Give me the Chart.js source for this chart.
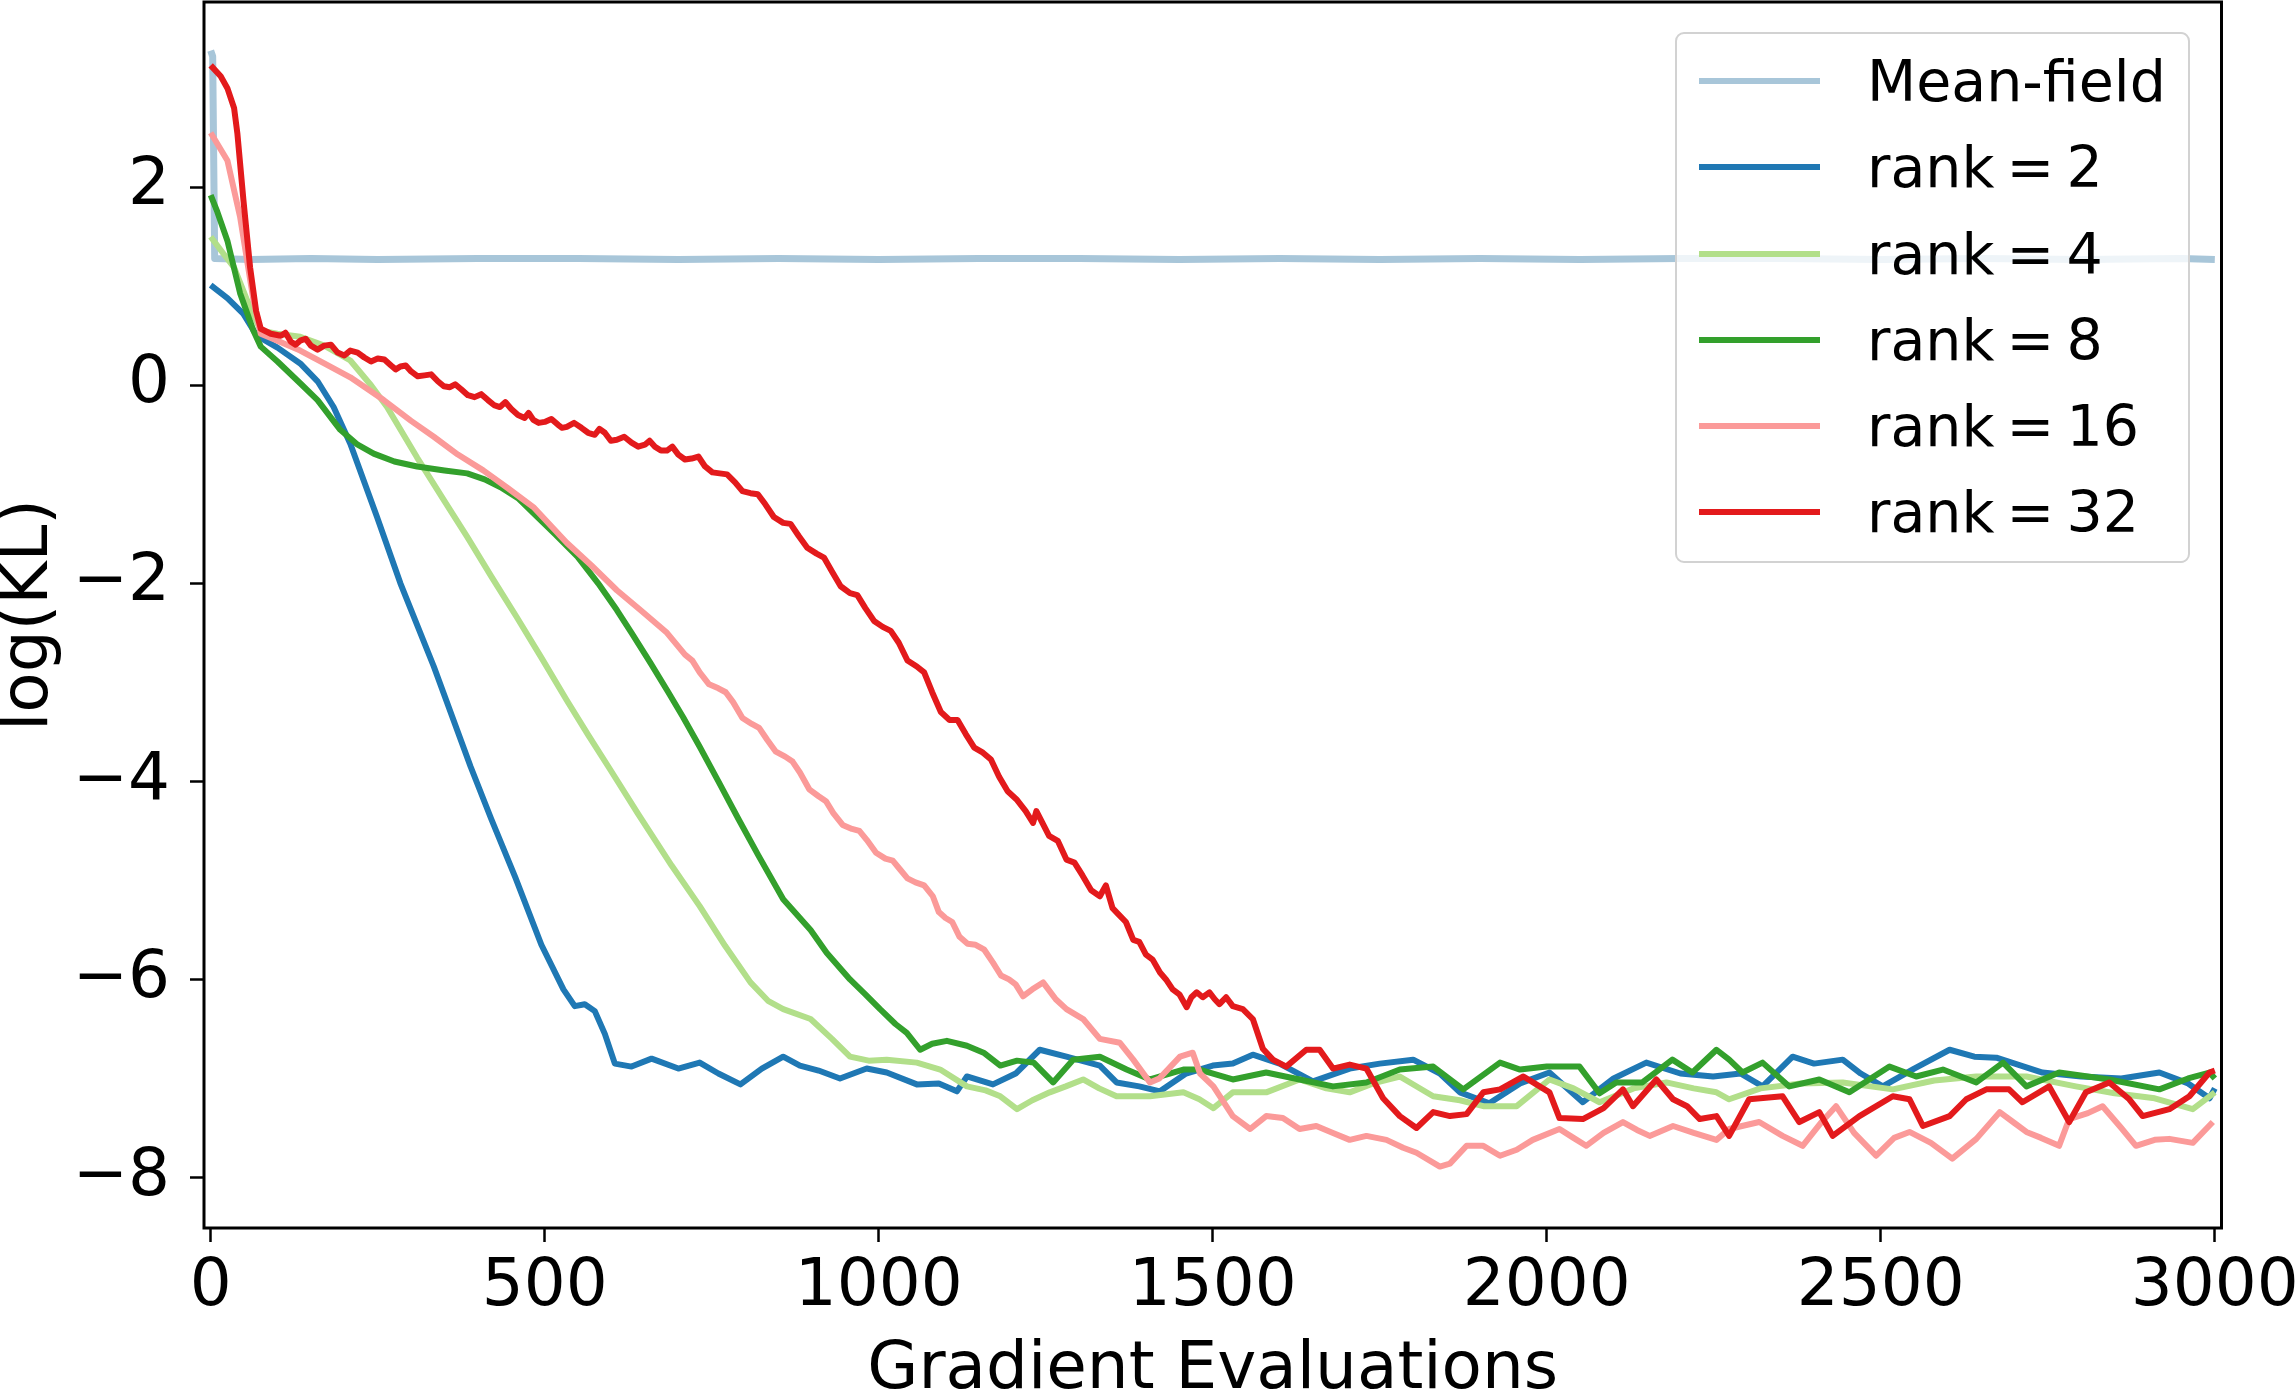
<!DOCTYPE html>
<html>
<head>
<meta charset="utf-8">
<script src="https://cdn.jsdelivr.net/npm/chart.js@4.4.1/dist/chart.umd.min.js"></script>
<style>
html,body{margin:0;padding:0;background:#fff;overflow:hidden;}
#wrap{position:relative;width:2295px;height:1389px;}
#c{position:absolute;left:0;top:0;}
#legend{position:absolute;left:1675px;top:32px;width:511px;height:527px;border:2.5px solid #d2d2d2;border-radius:9px;background:rgba(255,255,255,0.8);box-sizing:content-box;font-family:'DejaVu Sans';font-size:57px;color:#000;}
.row{position:absolute;left:0;height:80px;width:100%;}
.hand{position:absolute;left:22px;width:121px;height:6px;top:37px;}
.lab{position:absolute;left:190px;top:0;line-height:80px;white-space:nowrap;word-spacing:-6px;}
</style>
</head>
<body>
<div id="wrap">
<canvas id="c" width="2295" height="1389"></canvas>
<div id="legend"></div>
</div>
<script>
const seriesLabels = ['Mean-field', 'rank = 2', 'rank = 4', 'rank = 8', 'rank = 16', 'rank = 32'];
const seriesColors = ['#a8c6d9', '#1f78b4', '#b2df8a', '#33a02c', '#fb9a99', '#e31a1c'];
const seriesWidths = [7, 6, 6, 6, 6, 6];
const xTickValues = [0, 500, 1000, 1500, 2000, 2500, 3000];
const yTickValues = [-8, -6, -4, -2, 0, 2];
const xAxisTitle = 'Gradient Evaluations';
const yAxisTitle = 'log(KL)';

const meanFieldX = [0, 3, 6, 60, 150, 250, 400, 550, 700, 850, 1000, 1150, 1300, 1450, 1600, 1750, 1900, 2050, 2200, 2350, 2500, 2650, 2800, 2950, 3000];
const meanFieldY = [3.38, 3.32, 1.28, 1.27, 1.28, 1.27, 1.28, 1.28, 1.27, 1.28, 1.27, 1.28, 1.28, 1.27, 1.28, 1.27, 1.28, 1.27, 1.28, 1.28, 1.27, 1.28, 1.27, 1.28, 1.27];

const rank2X = [0, 25, 49, 69, 100, 134, 160, 184, 209, 249, 284, 334, 389, 420, 456, 495, 528, 545, 560, 575, 590, 605, 630, 660, 700, 732, 760, 793, 825, 857, 882, 910, 942, 982, 1012, 1057, 1090, 1117, 1132, 1171, 1205, 1241, 1281, 1331, 1356, 1390, 1421, 1460, 1500, 1530, 1560, 1600, 1650, 1705, 1750, 1800, 1840, 1870, 1914, 1960, 2004, 2054, 2100, 2149, 2200, 2249, 2290, 2323, 2368, 2400, 2443, 2470, 2503, 2550, 2603, 2640, 2673, 2742, 2800, 2860, 2917, 2960, 2992, 3000];
const rank2Y = [1.01, 0.88, 0.72, 0.5, 0.38, 0.22, 0.04, -0.22, -0.59, -1.33, -2.0, -2.84, -3.85, -4.38, -4.97, -5.65, -6.1, -6.27, -6.25, -6.32, -6.55, -6.85, -6.88, -6.8, -6.9, -6.84, -6.95, -7.06, -6.9, -6.78, -6.87, -6.92, -7.0, -6.9, -6.94, -7.06, -7.05, -7.13, -6.98, -7.06, -6.95, -6.71, -6.78, -6.87, -7.04, -7.08, -7.13, -6.95, -6.87, -6.85, -6.76, -6.85, -7.03, -6.9, -6.85, -6.81, -6.95, -7.14, -7.25, -7.05, -6.94, -7.24, -7.0, -6.84, -6.95, -6.98, -6.95, -7.08, -6.78, -6.85, -6.81, -6.95, -7.08, -6.9, -6.71, -6.78, -6.79, -6.94, -6.98, -7.0, -6.94, -7.05, -7.2, -7.1];

const rank4X = [0, 20, 35, 55, 75, 100, 134, 170, 209, 240, 264, 309, 350, 384, 420, 458, 495, 533, 565, 598, 640, 690, 732, 770, 808, 835, 857, 898, 930, 957, 985, 1012, 1057, 1092, 1132, 1160, 1182, 1207, 1230, 1256, 1280, 1306, 1330, 1356, 1406, 1456, 1480, 1501, 1530, 1580, 1630, 1670, 1705, 1740, 1780, 1830, 1870, 1905, 1955, 2004, 2040, 2079, 2130, 2179, 2220, 2254, 2273, 2320, 2380, 2443, 2518, 2580, 2643, 2718, 2792, 2850, 2910, 2967, 3000];
const rank4Y = [1.5, 1.32, 1.19, 0.85, 0.55, 0.52, 0.49, 0.4, 0.25, 0.0, -0.22, -0.73, -1.17, -1.53, -1.93, -2.34, -2.75, -3.18, -3.53, -3.88, -4.33, -4.85, -5.26, -5.66, -6.03, -6.22, -6.3, -6.4, -6.6, -6.78, -6.82, -6.81, -6.84, -6.91, -7.08, -7.12, -7.18, -7.31, -7.22, -7.14, -7.08, -7.01, -7.1, -7.18, -7.18, -7.14, -7.21, -7.3, -7.14, -7.14, -7.01, -7.1, -7.14, -7.05, -6.98, -7.18, -7.22, -7.28, -7.28, -7.01, -7.1, -7.24, -7.1, -7.04, -7.1, -7.14, -7.21, -7.1, -7.05, -7.04, -7.11, -7.02, -6.98, -6.98, -7.08, -7.15, -7.2, -7.31, -7.14];

const rank8X = [0, 10, 25, 44, 64, 75, 100, 134, 160, 194, 220, 244, 275, 309, 350, 384, 410, 434, 460, 483, 515, 549, 580, 608, 630, 658, 685, 707, 732, 760, 790, 820, 857, 898, 922, 957, 980, 1002, 1025, 1042, 1062, 1080, 1102, 1132, 1157, 1182, 1207, 1232, 1261, 1291, 1331, 1371, 1406, 1456, 1480, 1530, 1580, 1630, 1680, 1730, 1780, 1830, 1875, 1930, 1960, 2000, 2049, 2079, 2104, 2143, 2188, 2218, 2254, 2273, 2293, 2323, 2363, 2408, 2453, 2513, 2553, 2593, 2643, 2683, 2718, 2767, 2842, 2917, 2960, 2992, 3000];
const rank8Y = [1.92, 1.75, 1.46, 0.93, 0.55, 0.39, 0.24, 0.02, -0.15, -0.45, -0.6, -0.69, -0.77, -0.82, -0.86, -0.89, -0.95, -1.03, -1.14, -1.29, -1.5, -1.73, -2.0, -2.27, -2.5, -2.8, -3.1, -3.35, -3.65, -4.0, -4.38, -4.75, -5.19, -5.5, -5.73, -6.0, -6.15, -6.3, -6.45, -6.54, -6.71, -6.65, -6.62, -6.67, -6.74, -6.87, -6.82, -6.84, -7.04, -6.81, -6.78, -6.91, -7.01, -6.91, -6.91, -7.01, -6.94, -7.01, -7.08, -7.04, -6.91, -6.88, -7.11, -6.84, -6.91, -6.88, -6.88, -7.15, -7.04, -7.04, -6.81, -6.94, -6.71, -6.81, -6.94, -6.84, -7.08, -7.01, -7.14, -6.88, -6.98, -6.91, -7.04, -6.84, -7.08, -6.94, -7.01, -7.11, -7.0, -6.94, -7.0];

const rank16X = [0, 25, 44, 64, 75, 100, 134, 170, 209, 259, 300, 334, 370, 408, 445, 483, 533, 570, 608, 645, 683, 710, 721, 732, 746, 760, 771, 782, 796, 810, 821, 833, 846, 860, 871, 882, 896, 910, 921, 932, 946, 960, 971, 982, 996, 1010, 1021, 1032, 1043, 1055, 1068, 1081, 1090, 1100, 1110, 1121, 1133, 1145, 1158, 1171, 1183, 1195, 1205, 1216, 1230, 1246, 1265, 1281, 1306, 1331, 1361, 1381, 1406, 1420, 1451, 1470, 1481, 1501, 1530, 1556, 1580, 1605, 1630, 1655, 1680, 1705, 1730, 1760, 1785, 1805, 1840, 1855, 1880, 1905, 1930, 1955, 1979, 2019, 2040, 2059, 2085, 2114, 2135, 2154, 2189, 2220, 2254, 2273, 2318, 2353, 2383, 2410, 2433, 2460, 2493, 2520, 2543, 2575, 2607, 2643, 2678, 2700, 2718, 2740, 2767, 2782, 2810, 2832, 2860, 2882, 2910, 2932, 2967, 2997];
const rank16Y = [2.55, 2.27, 1.7, 0.86, 0.52, 0.45, 0.35, 0.22, 0.08, -0.15, -0.36, -0.52, -0.7, -0.86, -1.04, -1.23, -1.59, -1.82, -2.07, -2.28, -2.5, -2.72, -2.78, -2.9, -3.02, -3.06, -3.1, -3.2, -3.36, -3.42, -3.46, -3.58, -3.7, -3.75, -3.8, -3.91, -4.08, -4.15, -4.2, -4.32, -4.44, -4.48, -4.5, -4.59, -4.72, -4.78, -4.8, -4.89, -4.98, -5.02, -5.05, -5.16, -5.32, -5.38, -5.42, -5.57, -5.64, -5.65, -5.7, -5.83, -5.96, -6.0, -6.05, -6.17, -6.1, -6.03, -6.2, -6.3, -6.4, -6.6, -6.64, -6.81, -7.04, -7.0, -6.78, -6.74, -6.95, -7.08, -7.38, -7.51, -7.38, -7.4, -7.51, -7.48, -7.55, -7.62, -7.58, -7.62, -7.7, -7.75, -7.89, -7.86, -7.68, -7.68, -7.78, -7.72, -7.62, -7.51, -7.6, -7.68, -7.55, -7.44, -7.52, -7.58, -7.48, -7.55, -7.62, -7.51, -7.44, -7.58, -7.68, -7.45, -7.28, -7.55, -7.78, -7.6, -7.54, -7.65, -7.81, -7.61, -7.34, -7.45, -7.54, -7.6, -7.68, -7.41, -7.35, -7.28, -7.5, -7.68, -7.62, -7.61, -7.65, -7.44];

const rank32X = [0, 15, 25, 35, 40, 49, 59, 68, 75, 90, 105, 112, 120, 127, 134, 142, 150, 160, 170, 180, 190, 200, 209, 220, 230, 240, 250, 260, 270, 277, 284, 292, 300, 310, 320, 330, 340, 349, 358, 366, 375, 385, 395, 405, 415, 424, 433, 441, 450, 460, 470, 476, 483, 491, 500, 510, 520, 526, 533, 544, 555, 565, 575, 582, 590, 599, 608, 619, 630, 640, 650, 657, 665, 674, 683, 691, 700, 710, 720, 730, 740, 751, 762, 773, 785, 796, 808, 819, 830, 843, 857, 868, 880, 893, 907, 918, 930, 943, 957, 968, 980, 993, 1006, 1018, 1030, 1043, 1057, 1068, 1080, 1093, 1106, 1118, 1130, 1143, 1156, 1168, 1180, 1193, 1206, 1220, 1231, 1236, 1255, 1268, 1281, 1293, 1305, 1318, 1331, 1340, 1350, 1360, 1370, 1381, 1390, 1400, 1410, 1421, 1430, 1440, 1450, 1461, 1468, 1476, 1485, 1495, 1503, 1510, 1520, 1530, 1545, 1560, 1575, 1590, 1610, 1640, 1660, 1680, 1705, 1730, 1755, 1780, 1805, 1830, 1855, 1880, 1905, 1930, 1965, 2004, 2019, 2054, 2085, 2114, 2129, 2164, 2189, 2210, 2229, 2254, 2273, 2303, 2353, 2378, 2408, 2428, 2468, 2518, 2543, 2563, 2603, 2628, 2658, 2692, 2712, 2752, 2782, 2807, 2842, 2872, 2892, 2932, 2962, 2992, 3000];
const rank32Y = [3.23, 3.12, 3.0, 2.8, 2.54, 1.87, 1.19, 0.75, 0.57, 0.52, 0.5, 0.53, 0.44, 0.41, 0.45, 0.47, 0.4, 0.36, 0.4, 0.41, 0.33, 0.3, 0.35, 0.33, 0.28, 0.24, 0.27, 0.26, 0.2, 0.16, 0.19, 0.2, 0.14, 0.09, 0.1, 0.11, 0.04, -0.01, -0.02, 0.01, -0.04, -0.1, -0.12, -0.09, -0.15, -0.2, -0.22, -0.17, -0.24, -0.3, -0.33, -0.28, -0.35, -0.38, -0.37, -0.34, -0.4, -0.43, -0.42, -0.38, -0.43, -0.48, -0.5, -0.44, -0.48, -0.56, -0.55, -0.52, -0.58, -0.62, -0.6, -0.56, -0.62, -0.66, -0.66, -0.62, -0.7, -0.75, -0.74, -0.72, -0.82, -0.88, -0.89, -0.9, -0.98, -1.07, -1.09, -1.1, -1.2, -1.33, -1.39, -1.4, -1.52, -1.64, -1.7, -1.74, -1.88, -2.03, -2.1, -2.12, -2.25, -2.38, -2.44, -2.48, -2.6, -2.78, -2.84, -2.9, -3.1, -3.3, -3.38, -3.38, -3.52, -3.66, -3.71, -3.78, -3.95, -4.1, -4.18, -4.3, -4.42, -4.3, -4.55, -4.6, -4.79, -4.82, -4.95, -5.1, -5.16, -5.05, -5.28, -5.35, -5.42, -5.6, -5.62, -5.75, -5.8, -5.93, -6.0, -6.1, -6.15, -6.28, -6.18, -6.13, -6.18, -6.13, -6.2, -6.25, -6.18, -6.27, -6.3, -6.4, -6.7, -6.81, -6.88, -6.71, -6.71, -6.9, -6.86, -6.9, -7.2, -7.38, -7.5, -7.34, -7.38, -7.36, -7.14, -7.11, -6.98, -7.14, -7.4, -7.41, -7.3, -7.11, -7.28, -7.01, -7.21, -7.28, -7.41, -7.38, -7.58, -7.21, -7.18, -7.44, -7.34, -7.58, -7.38, -7.18, -7.21, -7.48, -7.38, -7.21, -7.11, -7.11, -7.24, -7.08, -7.44, -7.14, -7.04, -7.21, -7.38, -7.31, -7.18, -6.94, -6.92];

const seriesX = [meanFieldX, rank2X, rank4X, rank8X, rank16X, rank32X];
const seriesY = [meanFieldY, rank2Y, rank4Y, rank8Y, rank16Y, rank32Y];

const FONT = 'DejaVu Sans';

const datasets = seriesLabels.map((lab, i) => ({
  label: lab,
  data: seriesX[i].map((x, j) => ({x: x, y: seriesY[i][j]})),
  borderColor: seriesColors[i],
  backgroundColor: seriesColors[i],
  borderWidth: seriesWidths[i],
  pointRadius: 0,
  tension: 0,
  fill: false,
  order: seriesLabels.length - i
}));

const framePlugin = {
  id: 'frame',
  afterDatasetsDraw(chart) {
    const a = chart.chartArea, c = chart.ctx;
    c.save();
    c.strokeStyle = '#000';
    c.lineWidth = 3;
    c.strokeRect(a.left, a.top, a.right - a.left, a.bottom - a.top);
    c.restore();
  }
};

const fmtY = v => (v < 0 ? '\u2212' + Math.abs(v) : String(v));

new Chart(document.getElementById('c'), {
  type: 'line',
  data: {datasets: datasets},
  options: {
    responsive: false,
    animation: false,
    devicePixelRatio: 1,
    layout: {padding: {left: 0, right: 73.5, top: 2, bottom: 0}},
    plugins: {legend: {display: false}, tooltip: {enabled: false}},
    elements: {point: {radius: 0}, line: {borderJoinStyle: 'round', borderCapStyle: 'butt'}},
    scales: {
      x: {
        type: 'linear', min: -10, max: 3010,
        afterBuildTicks: s => { s.ticks = xTickValues.map(v => ({value: v})); },
        ticks: {autoSkip: false, maxRotation: 0, minRotation: 0, padding: 6, color: '#000',
                font: {family: FONT, size: 66}, callback: v => String(v)},
        grid: {display: true, drawOnChartArea: false, drawTicks: true, tickLength: 14, tickWidth: 2.5, tickColor: '#000'},
        border: {display: false},
        title: {display: true, text: xAxisTitle, color: '#000', font: {family: FONT, size: 66, lineHeight: 0.55}, padding: 0},
        afterFit: s => { s.height = 161; s.paddingLeft = 0; s.paddingRight = 0; }
      },
      y: {
        type: 'linear', min: -8.51, max: 3.87,
        afterBuildTicks: s => { s.ticks = yTickValues.map(v => ({value: v})); },
        ticks: {autoSkip: false, padding: 20, color: '#000', font: {family: FONT, size: 66}, callback: v => fmtY(v)},
        grid: {display: true, drawOnChartArea: false, drawTicks: true, tickLength: 14, tickWidth: 2.5, tickColor: '#000'},
        border: {display: false},
        title: {display: true, text: yAxisTitle, color: '#000', font: {family: FONT, size: 66, lineHeight: 0.9}, padding: 0},
        afterFit: s => { s.width = 204; s.paddingTop = 0; s.paddingBottom = 0; }
      }
    }
  },
  plugins: [framePlugin]
});

// legend built from the series arrays
const leg = document.getElementById('legend');
const rowCenters = [47, 133, 220, 306, 392, 478];
seriesLabels.forEach((lab, i) => {
  const row = document.createElement('div');
  row.className = 'row';
  row.style.top = (rowCenters[i] - 40) + 'px';
  const h = document.createElement('div');
  h.className = 'hand';
  h.style.background = seriesColors[i];
  const t = document.createElement('div');
  t.className = 'lab';
  t.textContent = lab;
  row.appendChild(h);
  row.appendChild(t);
  leg.appendChild(row);
});
</script>
</body>
</html>
